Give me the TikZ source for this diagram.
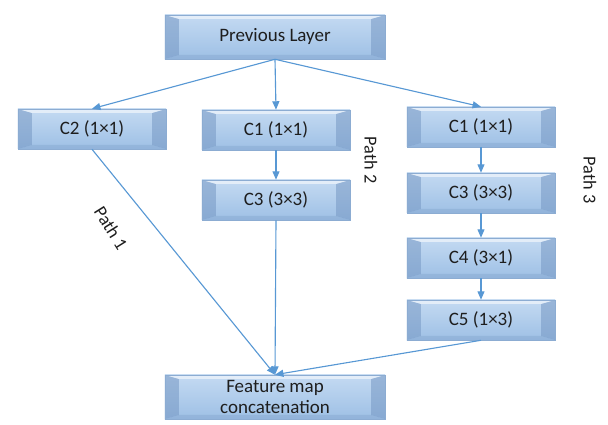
\documentclass[tikz,border=0pt]{standalone}
\usepackage{fontspec}
\setmainfont{Carlito}
\usepackage{xcolor}
\definecolor{boxtop}{RGB}{196,218,242}
\definecolor{boxbot}{RGB}{158,192,229}
\definecolor{boxedge}{RGB}{140,172,210}
\definecolor{boxside}{RGB}{118,152,196}
\definecolor{flowblue}{RGB}{88,152,212}
\definecolor{txtgray}{RGB}{30,30,30}
\usetikzlibrary{arrows.meta,positioning,calc,shadows}

\tikzset{
  layerbox/.style={draw=boxedge, line width=0.4pt, top color=boxtop, bottom color=boxbot,
    minimum width=3.7cm, minimum height=1cm, align=center, text=txtgray,
    font=\fontsize{13.5}{15}\selectfont,
    drop shadow={shadow xshift=0.5pt, shadow yshift=-1pt, opacity=0.25, fill=gray},
    path picture={
      \coordinate (bnw) at (path picture bounding box.north west);
      \coordinate (bne) at (path picture bounding box.north east);
      \coordinate (bsw) at (path picture bounding box.south west);
      \coordinate (bse) at (path picture bounding box.south east);
      % side bevels
      \fill[boxside, opacity=0.55] (bnw) -- ($(bnw)+(0.35cm,-0.1cm)$) -- ($(bsw)+(0.35cm,0.1cm)$) -- (bsw) -- cycle;
      \fill[boxside, opacity=0.55] (bne) -- ($(bne)+(-0.35cm,-0.1cm)$) -- ($(bse)+(-0.35cm,0.1cm)$) -- (bse) -- cycle;
      % top and bottom bevels
      \fill[white, opacity=0.55] (bnw) -- (bne) -- ($(bne)+(-0.35cm,-0.1cm)$) -- ($(bnw)+(0.35cm,-0.1cm)$) -- cycle;
      \fill[boxside, opacity=0.3] (bsw) -- (bse) -- ($(bse)+(-0.35cm,0.1cm)$) -- ($(bsw)+(0.35cm,0.1cm)$) -- cycle;
    }},
  widebox/.style={layerbox, minimum width=5.5cm, minimum height=1.1cm},
  flow/.style={draw=flowblue, line width=0.8pt, -{Triangle[length=6pt,width=5pt]}},
  pathlabel/.style={font=\fontsize{13}{14}\selectfont, text=txtgray}
}

\begin{document}
\begin{tikzpicture}[x=0.025cm, y=-0.025cm]
  \useasboundingbox (0,0) rectangle (608,425);

  \node[widebox] (prev) at (275,37) {Previous Layer};

  % path 1
  \node[layerbox] (p1c2) at (92,129) {C2 (1×1)};

  % path 2
  \node[layerbox] (p2c1) at (276,130) {C1 (1×1)};
  \node[layerbox] (p2c3) at (276,200) {C3 (3×3)};

  % path 3
  \node[layerbox] (p3c1) at (481,127) {C1 (1×1)};
  \node[layerbox] (p3c3) at (481,193) {C3 (3×3)};
  \node[layerbox] (p3c4) at (481,258) {C4 (3×1)};
  \node[layerbox] (p3c5) at (481,320) {C5 (1×3)};

  \node[widebox, align=center] (concat) at (275,397) {Feature map\\concatenation};

  \draw[flow] (prev.south) -- (p1c2.north);
  \draw[flow] (prev.south) -- (p2c1.north);
  \draw[flow] (prev.south) -- (p3c1.north);

  \draw[flow] (p2c1) -- (p2c3);
  \draw[flow] (p3c1) -- (p3c3);
  \draw[flow] (p3c3) -- (p3c4);
  \draw[flow] (p3c4) -- (p3c5);

  \draw[flow] (p1c2.south) -- (concat.north);
  \draw[flow] (p2c3.south) -- (concat.north);
  \draw[flow] (p3c5.south) -- (concat.north);

  \node[pathlabel, rotate=-58] (lbl1) at (111,228) {Path 1};
  \node[pathlabel, rotate=-90] (lbl2) at (371,160) {Path 2};
  \node[pathlabel, rotate=-90] (lbl3) at (590,180) {Path 3};
\end{tikzpicture}
\end{document}
